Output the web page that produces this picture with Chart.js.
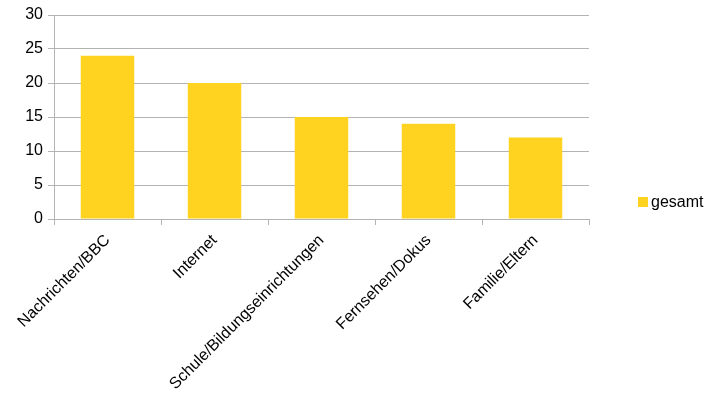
<!DOCTYPE html>
<html>
<head>
<meta charset="utf-8">
<script src="https://cdn.jsdelivr.net/npm/chart.js@4/dist/chart.umd.min.js"></script>
<style>
  html, body { margin: 0; padding: 0; background: #fff; }
  #wrap { width: 718px; height: 404px; }
</style>
</head>
<body>
<div id="wrap"><canvas id="bar-chart" width="718" height="404"></canvas></div>
<script>
const categories = ['Nachrichten/BBC', 'Internet', 'Schule/Bildungseinrichtungen', 'Fernsehen/Dokus', 'Familie/Eltern'];
const values_gesamt = [24, 20, 15, 14, 12];
const series_label = 'gesamt';
const y_max = 30;
const y_step = 5;

const grid_color = '#b3b3b3';
const bar_color = '#ffd320';
const font_family = '"Liberation Sans", Arial, sans-serif';

// legend drawn by hand, centred vertically on the canvas like the original
const side_legend = {
    id: 'side_legend',
    afterDraw: (chart) => {
        const ctx = chart.ctx;
        const ds = chart.data.datasets[0];
        const y = chart.height / 2;
        ctx.save();
        ctx.fillStyle = ds.backgroundColor;
        ctx.fillRect(638, y - 5, 10, 10);
        ctx.fillStyle = '#000';
        ctx.font = '16px ' + font_family;
        ctx.textBaseline = 'middle';
        ctx.textAlign = 'left';
        ctx.fillText(ds.label, 651, y + 1);
        ctx.restore();
    }
};

const last_line = categories.length;

new Chart(document.getElementById('bar-chart'), {
    type: 'bar',
    data: {
        labels: categories,
        datasets: [{
            label: series_label,
            data: values_gesamt,
            backgroundColor: bar_color,
            borderWidth: 0,
            barPercentage: 0.5,
            categoryPercentage: 1.0,
        }]
    },
    options: {
        responsive: false,
        animation: false,
        layout: {
            padding: { top: 15, right: 129, left: 0, bottom: 0 }
        },
        scales: {
            x: {
                offset: true,
                grid: {
                    offset: true,
                    color: (c) => (c.index === 0 || c.index === last_line) ? grid_color : 'rgba(0,0,0,0)',
                    tickColor: grid_color,
                    tickLength: 6,
                    lineWidth: 1,
                },
                border: { display: true, color: grid_color },
                ticks: {
                    color: '#000',
                    font: { family: font_family, size: 16 },
                    minRotation: 45,
                    maxRotation: 45,
                    autoSkip: false,
                    padding: 6,
                },
                afterFit: (scale) => { scale.height = 185; }
            },
            y: {
                min: 0,
                max: y_max,
                ticks: {
                    stepSize: y_step,
                    color: '#000',
                    font: { family: font_family, size: 16 },
                    padding: 5,
                },
                grid: {
                    color: grid_color,
                    tickColor: grid_color,
                    tickLength: 6,
                },
                border: { display: true, color: grid_color },
                afterFit: (scale) => { scale.width = 54; }
            }
        },
        plugins: {
            legend: { display: false },
            tooltip: { enabled: false },
            title: { display: false }
        }
    },
    plugins: [side_legend]
});
</script>
</body>
</html>
